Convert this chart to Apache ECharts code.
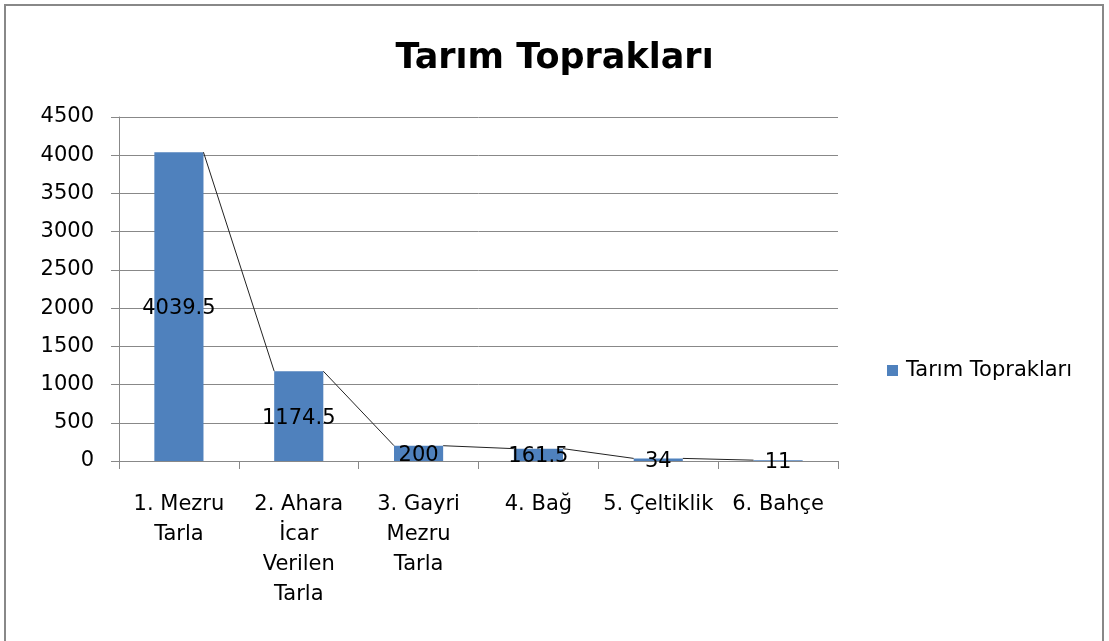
<!DOCTYPE html>
<html lang="tr">
<head>
  <meta charset="UTF-8">
  <title>Tarım Toprakları</title>
  <script src="https://cdn.jsdelivr.net/npm/echarts@6/dist/echarts.min.js"></script>
  <style>
    html, body, #main {
      margin: 0;
      padding: 0;
      width: 1109px;
      height: 641px;
      background: #fff;
    }
  </style>
</head>
<body>
  <div id="main"></div>

  <script>
    const categories = [
      "1. Mezru\nTarla",
      "2. Ahara\nİcar\nVerilen\nTarla",
      "3. Gayri\nMezru\nTarla",
      "4. Bağ",
      "5. Çeltiklik",
      "6. Bahçe"
    ];
    const values = [4039.5, 1174.5, 200, 161.5, 34, 11];
    const seriesName = "Tarım Toprakları";
    const yTicks = { min: 0, max: 4500, interval: 500 };

    // series lines: right top corner of one bar to left top corner of the next
    const connectors = values.slice(0, -1).map((v, i) => [i, v, values[i + 1]]);

    const FONT = "DejaVu Sans";
    const chart = echarts.init(document.getElementById('main'));
    const option = {
      animation: false,
      textStyle: { fontFamily: FONT },
      title: {
        text: "Tarım Toprakları",
        left: 'center',
        top: 36,
        textStyle: { fontFamily: FONT, fontSize: 35, fontWeight: 'bold', color: '#000' }
      },
      legend: {
        data: [seriesName],
        left: 882,
        top: 355,
        icon: 'rect',
        itemWidth: 11,
        itemHeight: 11,
        textStyle: { fontFamily: FONT, fontSize: 21, color: '#000', padding: [0, 0, 0, 3] }
      },
      grid: { left: 119, right: 271, top: 117, bottom: 180 },
      xAxis: {
        type: 'category',
        data: categories,
        axisLine: { lineStyle: { color: '#888', width: 1 } },
        axisTick: { show: true, length: 8, lineStyle: { color: '#888' } },
        axisLabel: {
          interval: 0,
          margin: 29,
          fontFamily: FONT,
          fontSize: 21,
          lineHeight: 30,
          color: '#000'
        }
      },
      yAxis: {
        type: 'value',
        min: yTicks.min,
        max: yTicks.max,
        interval: yTicks.interval,
        axisLine: { show: true, lineStyle: { color: '#888', width: 1 } },
        axisTick: { show: true, length: 8, lineStyle: { color: '#888' } },
        splitLine: { lineStyle: { color: '#888', width: 1 } },
        axisLabel: {
          margin: 25,
          fontFamily: FONT,
          fontSize: 21,
          color: '#000',
          formatter: v => String(v)
        }
      },
      series: [
        {
          name: seriesName,
          type: 'bar',
          barWidth: '41%',
          data: values,
          itemStyle: { color: '#4F81BD' },
          label: {
            show: true,
            position: 'inside',
            offset: [0, 2],
            fontFamily: FONT,
            fontSize: 21,
            color: '#000'
          },
          z: 2
        },
        {
          type: 'custom',
          data: connectors,
          encode: { x: 0, y: 1 },
          z: 3,
          silent: true,
          renderItem: function (params, api) {
            const p1 = api.coord([api.value(0), api.value(1)]);
            const p2 = api.coord([api.value(0) + 1, api.value(2)]);
            const half = api.size([1, 0])[0] * 0.205;
            return {
              type: 'line',
              shape: { x1: p1[0] + half, y1: p1[1], x2: p2[0] - half, y2: p2[1] },
              style: { stroke: '#222', lineWidth: 1 }
            };
          }
        }
      ],
      graphic: [
        {
          type: 'rect',
          shape: { x: 5, y: 5, width: 1098, height: 660 },
          style: { fill: 'none', stroke: '#888', lineWidth: 2 },
          silent: true
        }
      ]
    };

    chart.setOption(option);
  </script>
</body>
</html>
